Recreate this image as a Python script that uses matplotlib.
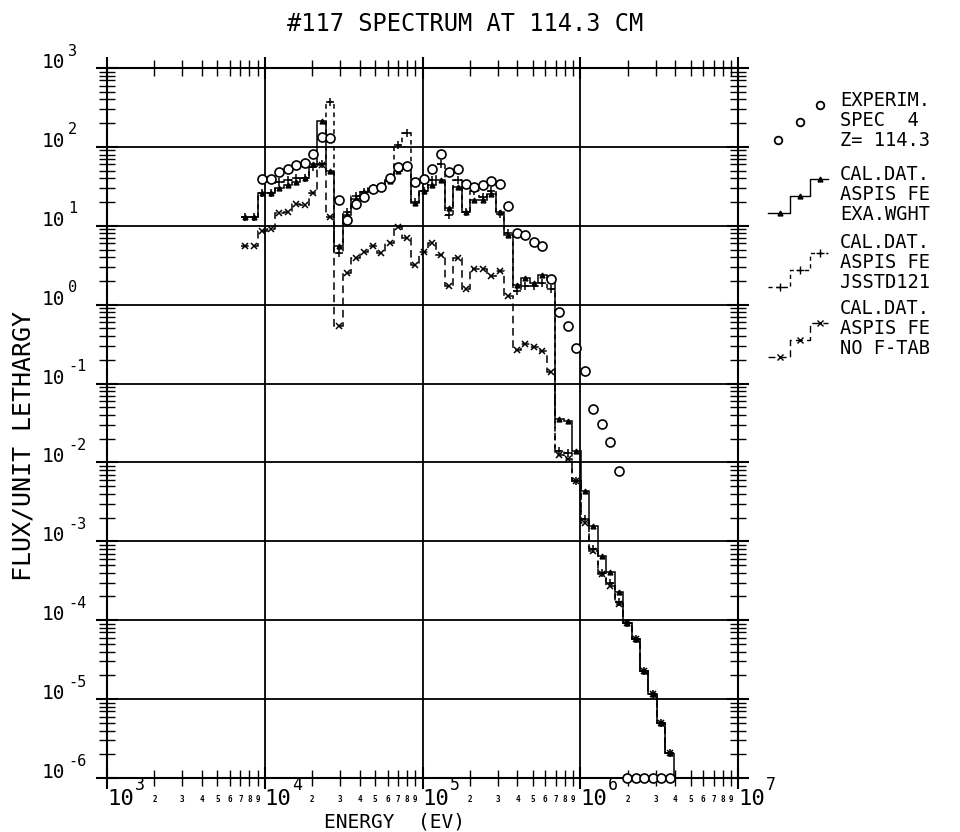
import numpy as np
import matplotlib
matplotlib.use("Agg")
import matplotlib.pyplot as plt
from matplotlib.transforms import offset_copy
from matplotlib.ticker import LogLocator, NullFormatter

plt.rcParams['font.family'] = ['DejaVu Sans Mono', 'DejaVu Sans']

# group boundaries (eV) of the calculated step spectra
edges = [7082, 8015, 9072, 10270, 11620, 13150, 14890, 16850, 19070, 21590,
         24440, 27670, 31320, 35440, 40110, 45400, 51390, 58170, 65850, 74530,
         84360, 95480, 108070, 122320, 138450, 156710, 177380, 200770, 227250, 257220,
         291140, 329540, 373000, 422200, 477890, 540930, 612290, 693060, 784480, 887950,
         1004800, 1137400, 1287500, 1457300, 1649600, 1867200, 2113500, 2392300, 2707900, 3065200,
         3469600, 3927300]

# experiment (SPEC 4, Z=114.3); 1e-6 = plotted on the bottom axis
experim = [np.nan, np.nan, 39, 39, 48, 53, 59, 62, 81, 134,
           131, 21, 12, 19, 23, 29, 31, 40, 55, 57,
           36, 39, 52, 81, 48, 52, 34, 31, 33, 37,
           34, 18, 8.2, 7.6, 6.3, 5.6, 2.1, 0.8, 0.54, 0.28,
           0.145, 0.047, 0.031, 0.018, 0.0078, 1e-6, 1e-6, 1e-6, 1e-6, 1e-6,
           1e-6]

# CAL.DAT. ASPIS FE EXA.WGHT
exa_wght = [13, 13, 26, 26, 30, 33, 36, 40, 60, 210,
            50, 5.6, 13.6, 22, 27, 29, 31, 37, 50, 57,
            19.5, 28, 33, 38, 16.6, 31, 15, 21, 21, 25,
            15, 7.6, 1.8, 2.2, 1.9, 2.4, 2.1, 0.036, 0.034, 0.014,
            0.0044, 0.00155, 6.6e-4, 4.1e-4, 2.3e-4, 9.3e-5, 5.8e-5, 2.3e-5, 1.15e-5, 5.0e-6,
            2.1e-6]

# CAL.DAT. ASPIS FE JSSTD121
jsstd121 = [13, 13, 26, 26, 36, 38, 40, 40, 55, 60,
            370, 4.5, 15, 24, 27, 30, 31, 38, 105, 150,
            20, 28, 38, 60, 13.6, 38, 15, 28, 23, 28,
            14, 8.0, 1.5, 1.7, 1.7, 1.9, 1.6, 0.014, 0.013, 0.0058,
            0.0019, 8e-4, 4e-4, 3e-4, 1.7e-4, 9.3e-5, 5.8e-5, 2.3e-5, 1.15e-5, 5.0e-6,
            2.1e-6]

# CAL.DAT. ASPIS FE NO F-TAB
no_ftab = [5.6, 5.6, 8.5, 9.1, 14.4, 14.8, 18.8, 18.6, 26, 59,
           12.8, 0.54, 2.5, 3.9, 4.7, 5.6, 4.5, 6.1, 9.7, 6.9,
           3.2, 4.7, 6.0, 4.3, 1.7, 3.9, 1.57, 2.8, 2.8, 2.3,
           2.7, 1.3, 0.27, 0.32, 0.29, 0.26, 0.14, 0.0125, 0.011, 0.0058,
           0.0017, 7.6e-4, 3.9e-4, 2.7e-4, 1.6e-4, 9.3e-5, 5.8e-5, 2.3e-5, 1.15e-5, 5.0e-6,
           2.1e-6]

x_decades = [3, 4, 5, 6, 7]
y_decades = [3, 2, 1, 0, -1, -2, -3, -4, -5, -6]

e = np.array(edges, dtype=float)
centers = np.sqrt(e[:-1] * e[1:])

fig = plt.figure(figsize=(9.6, 8.32), dpi=100)
ax = fig.add_axes([107 / 960, 1 - 778 / 832, 631 / 960, 710 / 832])
ax.set_xscale('log')
ax.set_yscale('log')
ax.set_xlim(1e3, 1e7)
ax.set_ylim(1e-6, 1e3)

# grid: full lines at decades
for d in y_decades[1:-1]:
    ax.axhline(10.0 ** d, color='k', lw=1.3, zorder=1)
for d in x_decades[1:-1]:
    ax.axvline(10.0 ** d, color='k', lw=1.3, zorder=1)

lw = 1.1
ax.stairs(exa_wght, e, baseline=None, color='k', lw=lw, zorder=3)
ax.plot(centers, exa_wght, ls='none', marker='^', ms=3.5, color='k', zorder=4)

ax.stairs(jsstd121, e, baseline=None, color='k', lw=lw, ls=(0, (3, 2.5)), zorder=3)
ax.plot(centers, jsstd121, ls='none', marker='+', ms=6, mew=1.1, color='k', zorder=4)

ax.stairs(no_ftab, e, baseline=None, color='k', lw=lw, ls=(0, (5, 3)), zorder=3)
ax.plot(centers, no_ftab, ls='none', marker='x', ms=4.5, mew=1.1, color='k', zorder=4)

# all three calculations fall to zero above the last group
ax.vlines(e[-1], 1e-6, exa_wght[-1], color='k', lw=lw, zorder=3)

ax.plot(centers, experim, ls='none', marker='o', ms=6.5, mfc='white', mec='k',
        mew=1.2, zorder=5, clip_on=False)

for s in ax.spines.values():
    s.set_linewidth(1.5)
ax.xaxis.set_major_locator(LogLocator(base=10, numticks=10))
ax.xaxis.set_minor_locator(LogLocator(base=10, subs=np.arange(2, 10), numticks=20))
ax.yaxis.set_major_locator(LogLocator(base=10, numticks=15))
ax.yaxis.set_minor_locator(LogLocator(base=10, subs=np.arange(2, 10), numticks=20))
ax.xaxis.set_major_formatter(NullFormatter())
ax.xaxis.set_minor_formatter(NullFormatter())
ax.yaxis.set_major_formatter(NullFormatter())
ax.yaxis.set_minor_formatter(NullFormatter())
ax.tick_params(which='both', direction='inout', top=True, right=True, color='k')
ax.tick_params(which='major', length=16, width=1.5)
ax.tick_params(which='minor', length=11, width=1.0)

# decade labels "10^n"
ytr = ax.get_yaxis_transform()
for d in y_decades:
    ax.text(-0.066, 10.0 ** d, '10', transform=ytr, ha='right', va='baseline',
            fontsize=14, clip_on=False)
    ax.text(-0.062, 10.0 ** d, str(d),
            transform=offset_copy(ytr, fig=fig, x=0, y=9, units='points'),
            ha='left', va='baseline', fontsize=11, clip_on=False)

xtr = ax.get_xaxis_transform()
for d in x_decades:
    ax.text(10.0 ** d, -0.015, '10', transform=xtr, ha='left', va='top',
            fontsize=16, clip_on=False)
    ax.text(10.0 ** d, -0.015, str(d),
            transform=offset_copy(xtr, fig=fig, x=20, y=9, units='points'),
            ha='left', va='top', fontsize=12, clip_on=False)
    if d < 7:
        for m in range(2, 10):
            ax.text(m * 10.0 ** d, -0.024, str(m), transform=xtr, ha='center',
                    va='top', fontsize=5.5, fontweight='bold', clip_on=False)

fig.text(465 / 960, 1 - 24 / 832, '#117 SPECTRUM AT 114.3 CM', ha='center',
         va='center', fontsize=17)
fig.text(24 / 960, 1 - 446 / 832, 'FLUX/UNIT LETHARGY', rotation=90, ha='center',
         va='center', fontsize=18)
fig.text(395 / 960, 1 - 822 / 832, 'ENERGY  (EV)', ha='center', va='center',
         fontsize=14)

# legend block, drawn in pixel coordinates of the figure
lax = fig.add_axes([0, 0, 1, 1])
lax.set_xlim(0, 960)
lax.set_ylim(832, 0)
lax.axis('off')
lax.patch.set_alpha(0)

lax.plot([778, 800, 820], [140, 122, 105], ls='none', marker='o', ms=5.5,
         mfc='white', mec='k', mew=1.3)

def leg_steps(y0, style, marker, ms):
    xs = [768, 790, 790, 810, 810, 828]
    ys = [y0, y0, y0 - 17, y0 - 17, y0 - 34, y0 - 34]
    lax.plot(xs, ys, color='k', lw=1.0, ls=style)
    lax.plot([780, 800, 820], [y0, y0 - 17, y0 - 34], ls='none', marker=marker,
             ms=ms, color='k', mew=1.0)

leg_steps(213, '-', '^', 3.5)
leg_steps(287, (0, (3, 2.5)), '+', 6)
leg_steps(357, (0, (5, 3)), 'x', 4.5)

leg_text = [('EXPERIM.', 101), ('SPEC  4', 121), ('Z= 114.3', 141),
            ('CAL.DAT.', 175), ('ASPIS FE', 195), ('EXA.WGHT', 215),
            ('CAL.DAT.', 242), ('ASPIS FE', 262), ('JSSTD121', 282),
            ('CAL.DAT.', 309), ('ASPIS FE', 329), ('NO F-TAB', 349)]
for txt, yy in leg_text:
    lax.text(840, yy, txt, ha='left', va='center', fontsize=13.5)

fig.savefig('out.png', dpi=100)
